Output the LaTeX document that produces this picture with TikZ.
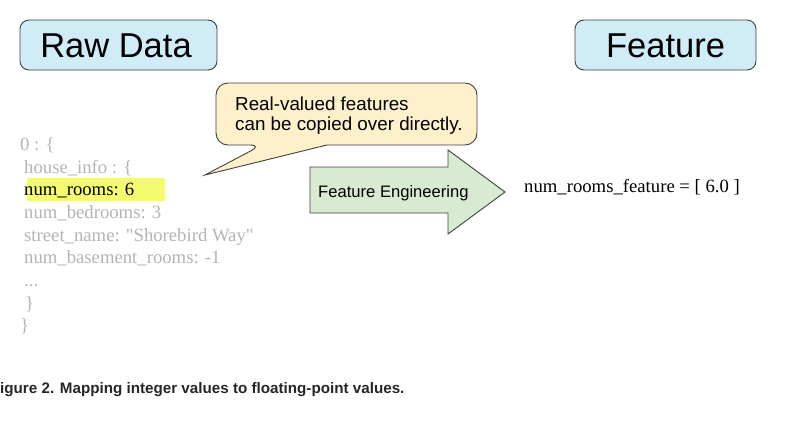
\documentclass[tikz,border=0pt]{standalone}
\usepackage{fontspec}
\setmainfont{Liberation Serif}
\newfontfamily\arialf{Liberation Sans}
\definecolor{boxblue}{HTML}{CFECF7}
\definecolor{bubbley}{HTML}{FFF0CC}
\definecolor{arrowg}{HTML}{D9EAD3}
\definecolor{hilite}{HTML}{F4FB6E}
\definecolor{jsongray}{HTML}{B4B4B4}
\definecolor{edge}{HTML}{404040}
\begin{document}
\begin{tikzpicture}[x=1pt,y=-1pt,
  titlebox/.style={draw=edge,line width=0.9pt,fill=boxblue,rounded corners=9pt},
  titletext/.style={font=\arialf\fontsize{34.5}{40}\selectfont,anchor=base,inner sep=0pt},
  jsontext/.style={font=\fontsize{18.7}{22}\selectfont,text=jsongray,anchor=base west,inner sep=0pt},
  sanslabel/.style={font=\arialf\fontsize{16.6}{20}\selectfont,anchor=base west,inner sep=0pt}]
\useasboundingbox (0,0) rectangle (785,439);
% title boxes
\draw[titlebox] (20,20) rectangle (217,70);
\node[titletext] (raw) at (116,57) {Raw Data};
\draw[titlebox] (575,20) rectangle (756,70);
\node[titletext] (feat) at (665.5,57) {Feature};
% speech bubble
\draw[draw=edge,line width=0.9pt,fill=bubbley]
  (262,145) -- (205,175) -- (327,145) [rounded corners=12pt] -- (477,145) -- (477,83) -- (216,83) -- (216,145) -- cycle;
\node[font=\arialf\fontsize{18.8}{20}\selectfont,anchor=base west,inner sep=0pt,align=left] (bubtxt1) at (235,110) {Real-valued features};
\node[font=\arialf\fontsize{18.8}{20}\selectfont,anchor=base west,inner sep=0pt,align=left] (bubtxt2) at (235,130) {can be copied over directly.};
% block arrow
\draw[draw=edge,line width=0.9pt,fill=arrowg]
  (310,167) -- (448,167) -- (448,150) -- (505,192) -- (448,234) -- (448,213) -- (310,213) -- cycle;
\node[sanslabel] (fe) at (318,197) {Feature Engineering};
% feature output
\node[font=\fontsize{18.7}{22}\selectfont,anchor=base west,inner sep=0pt] (out) at (524,192) {num\_rooms\_feature = [ 6.0 ]};
% highlight
\fill[hilite] (27,178) rectangle (165,201);
% json
\node[jsontext] (j0) at (20,150) {0 : \{};
\node[jsontext] (j1) at (24,173) {house\_info : \{};
\node[jsontext,text=black] (j2) at (24,195.5) {num\_rooms: 6};
\node[jsontext] (j3) at (24,218) {num\_bedrooms: 3};
\node[jsontext] (j4) at (24,241) {street\_name: \textquotedbl Shorebird Way\textquotedbl};
\node[jsontext] (j5) at (24,263.5) {num\_basement\_rooms: -1};
\node[jsontext] (j6) at (24,286) {...};
\node[jsontext] (j7) at (25,309) {\}};
\node[jsontext] (j8) at (20,331.5) {\}};
% caption
\node[font=\arialf\bfseries\fontsize{15.2}{18}\selectfont,text=black!85,anchor=base west,inner sep=0pt] (cap) at (0,393) {igure 2. Mapping integer values to floating-point values.};
\end{tikzpicture}
\end{document}
